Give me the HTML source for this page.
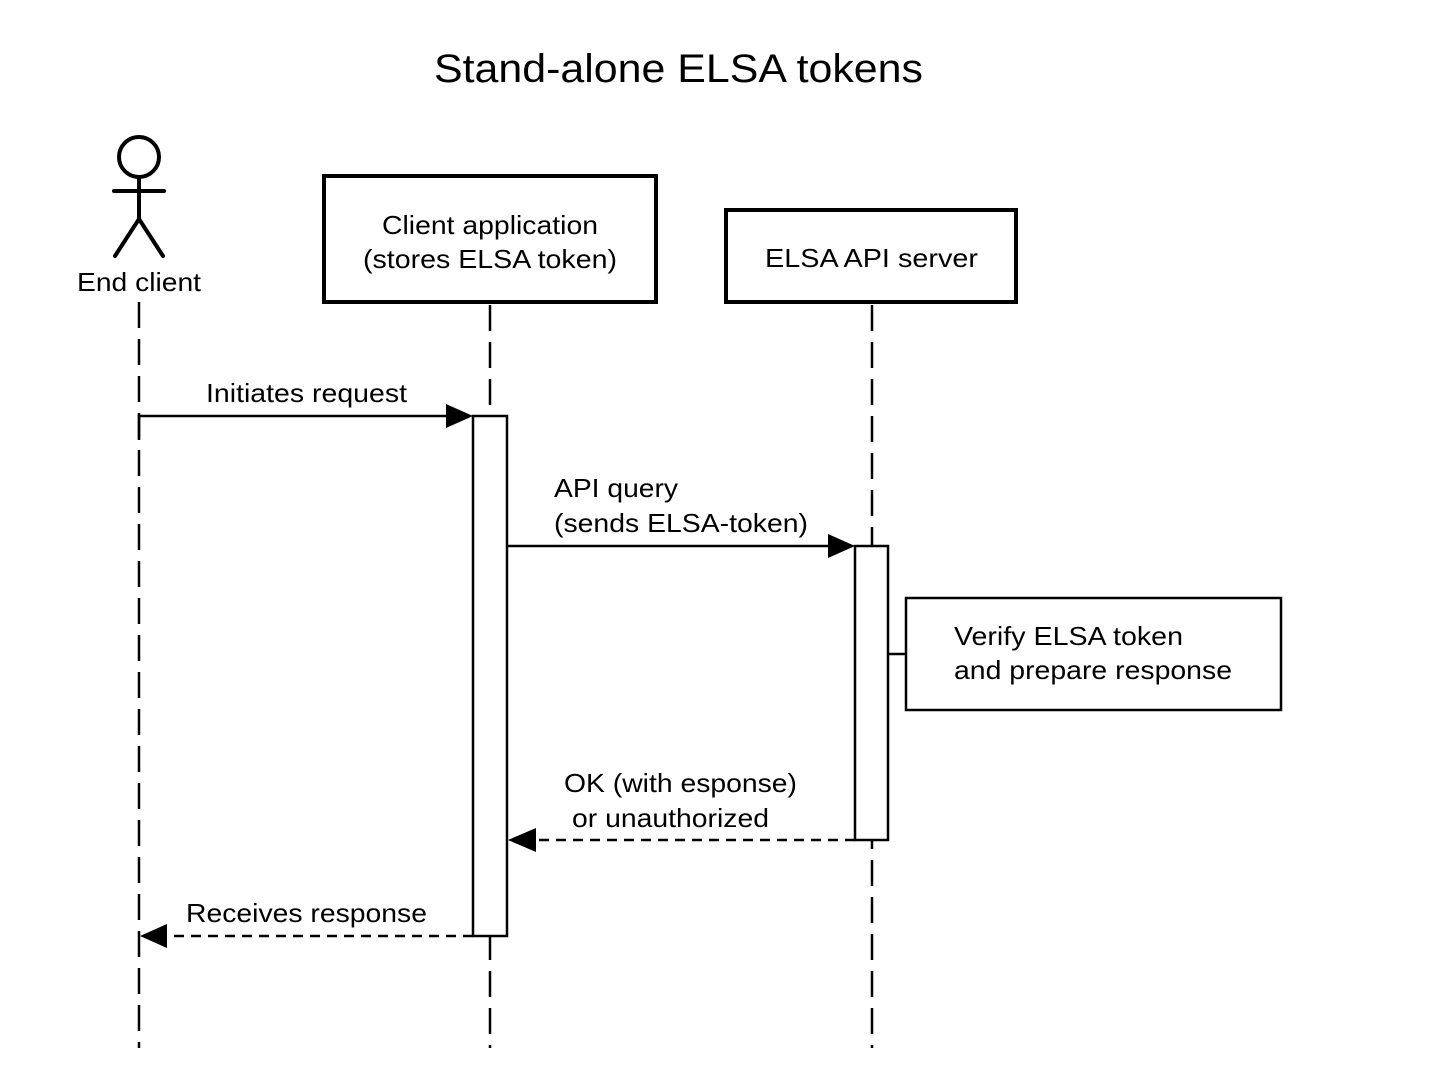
<!DOCTYPE html>
<html><head><style>
html,body{margin:0;padding:0;background:#fff;}
svg{display:block;}
text{font-family:"Liberation Sans",Arial,sans-serif;fill:#000;}
</style></head><body>
<svg width="1438" height="1074" viewBox="0 0 1438 1074" xmlns="http://www.w3.org/2000/svg">
<rect width="1438" height="1074" fill="#fff"/>
<text x="434" y="82" font-size="40" textLength="489" lengthAdjust="spacingAndGlyphs">Stand-alone ELSA tokens</text>

<!-- actor -->
<g stroke="#000" stroke-width="4" fill="none" stroke-linecap="round">
<circle cx="139" cy="157" r="20"/>
<line x1="114" y1="191" x2="164" y2="191"/>
<line x1="139" y1="177" x2="139" y2="219"/>
<line x1="139" y1="219" x2="115" y2="256"/>
<line x1="139" y1="219" x2="163" y2="256"/>
</g>
<text x="77" y="291" font-size="26" textLength="124" lengthAdjust="spacingAndGlyphs">End client</text>

<!-- boxes -->
<rect x="324" y="176" width="332" height="126" fill="#fff" stroke="#000" stroke-width="4"/>
<text x="382" y="234" font-size="26" textLength="216" lengthAdjust="spacingAndGlyphs">Client application</text>
<text x="363" y="268" font-size="26" textLength="254" lengthAdjust="spacingAndGlyphs">(stores ELSA token)</text>
<rect x="726" y="210" width="290" height="92" fill="#fff" stroke="#000" stroke-width="4"/>
<text x="765" y="267" font-size="26" textLength="213" lengthAdjust="spacingAndGlyphs">ELSA API server</text>

<!-- lifelines -->
<g stroke="#000" stroke-width="2.5" stroke-dasharray="26,11">
<line x1="139" y1="302" x2="139" y2="1048"/>
<line x1="490" y1="305" x2="490" y2="1048"/>
<line x1="872" y1="305" x2="872" y2="1048"/>
</g>

<!-- activations -->
<rect x="473" y="416" width="34" height="520" fill="#fff" stroke="#000" stroke-width="2.5"/>
<rect x="855" y="546" width="33" height="294" fill="#fff" stroke="#000" stroke-width="2.5"/>

<!-- messages -->
<g stroke="#000" stroke-width="2.5" fill="none">
<polyline points="139,440 139,416 448,416"/>
<line x1="507" y1="546" x2="830" y2="546"/>
<line x1="855" y1="840" x2="534" y2="840" stroke-dasharray="10,7"/>
<line x1="473" y1="936" x2="166" y2="936" stroke-dasharray="10,7"/>
<line x1="888" y1="654" x2="906" y2="654"/>
</g>
<g fill="#000">
<polygon points="446,404 473,416 446,428"/>
<polygon points="828,534 855,546 828,558"/>
<polygon points="536,828 508,840 536,852"/>
<polygon points="167,924 140,936 167,948"/>
</g>
<text x="206" y="402" font-size="26" textLength="201" lengthAdjust="spacingAndGlyphs">Initiates request</text>
<text x="554" y="497" font-size="26" textLength="124" lengthAdjust="spacingAndGlyphs">API query</text>
<text x="554" y="532" font-size="26" textLength="254" lengthAdjust="spacingAndGlyphs">(sends ELSA-token)</text>
<text x="564" y="792" font-size="26" textLength="233" lengthAdjust="spacingAndGlyphs">OK (with esponse)</text>
<text x="572" y="827" font-size="26" textLength="197" lengthAdjust="spacingAndGlyphs">or unauthorized</text>
<text x="186" y="922" font-size="26" textLength="241" lengthAdjust="spacingAndGlyphs">Receives response</text>

<!-- note -->
<rect x="906" y="598" width="375" height="112" fill="#fff" stroke="#000" stroke-width="2.5"/>
<text x="954" y="645" font-size="26" textLength="229" lengthAdjust="spacingAndGlyphs">Verify ELSA token</text>
<text x="954" y="679" font-size="26" textLength="278" lengthAdjust="spacingAndGlyphs">and prepare response</text>
</svg>
</body></html>
